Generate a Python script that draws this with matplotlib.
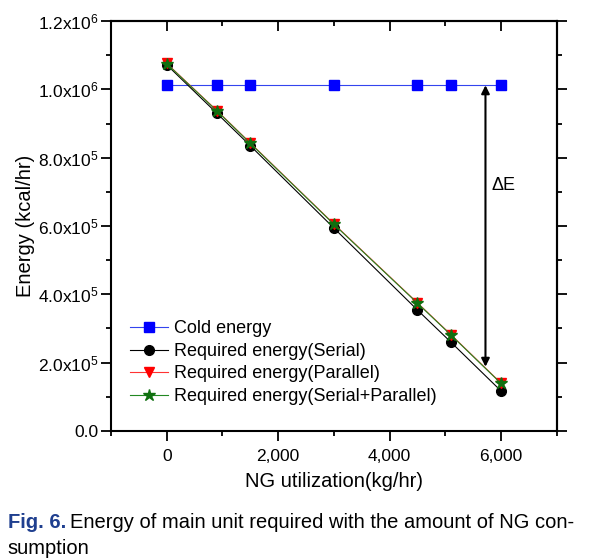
import numpy as np
import matplotlib
matplotlib.use("Agg")
import matplotlib.pyplot as plt
from matplotlib.ticker import MultipleLocator, FuncFormatter, NullFormatter

plt.rcParams['font.family'] = ['Liberation Sans', 'DejaVu Sans']
plt.rcParams['mathtext.fontset'] = 'custom'
plt.rcParams['mathtext.rm'] = 'Liberation Sans'
plt.rcParams['mathtext.it'] = 'Liberation Sans:italic'

# Data
ng = [0, 900, 1500, 3000, 4500, 5100, 6000]
cold = [1.012e6, 1.012e6, 1.012e6, 1.012e6, 1.012e6, 1.012e6, 1.012e6]
serial = [1.072e6, 9.30e5, 8.35e5, 5.94e5, 3.54e5, 2.60e5, 1.17e5]
parallel = [1.076e6, 9.38e5, 8.43e5, 6.06e5, 3.75e5, 2.82e5, 1.40e5]
ser_par = [1.075e6, 9.37e5, 8.42e5, 6.05e5, 3.74e5, 2.81e5, 1.39e5]

arrow_x = 5720
arrow_top = 1.012e6
arrow_bottom = 1.88e5

fig = plt.figure(figsize=(6, 5.6), dpi=100)
ax = fig.add_axes([0.185, 0.2304, 0.743, 0.732])

ax.plot(ng, cold, color='#3344ee', lw=0.8, marker='s', ms=6.5,
        mfc='#0000ff', mec='#0000ff', label='Cold energy')
ax.plot(ng, serial, color='black', lw=0.8, marker='o', ms=7,
        label='Required energy(Serial)')
ax.plot(ng, parallel, color='#ff3333', lw=0.8, marker='v', ms=7.5,
        mfc='red', mec='red', label='Required energy(Parallel)')
ax.plot(ng, ser_par, color='#228822', lw=0.8, marker='*', ms=9,
        mfc='#107010', mec='#107010', label='Required energy(Serial+Parallel)')

ax.annotate('', xy=(arrow_x, arrow_top), xytext=(arrow_x, arrow_bottom),
            arrowprops=dict(arrowstyle='<|-|>', color='black', lw=1.5,
                            mutation_scale=12, shrinkA=0, shrinkB=0))
ax.text(arrow_x + 100, 7.18e5, '\u0394E', fontsize=13, va='center', ha='left')

ax.set_xlim(-1000, 7000)
ax.set_ylim(0, 1.2e6)
ax.xaxis.set_major_locator(MultipleLocator(2000))
ax.xaxis.set_minor_locator(MultipleLocator(1000))
ax.yaxis.set_major_locator(MultipleLocator(2e5))
ax.yaxis.set_minor_locator(MultipleLocator(1e5))


def yfmt(v, pos):
    if abs(v) < 1:
        return '0.0'
    if v < 0:
        return ''
    e = int(np.floor(np.log10(v)))
    m = v / 10 ** e
    return r'%.1fx10$^{%d}$' % (m, e)


ax.yaxis.set_major_formatter(FuncFormatter(yfmt))
ax.xaxis.set_major_formatter(FuncFormatter(lambda v, p: '{:,.0f}'.format(v)))

ax.tick_params(axis='both', which='major', labelsize=12.5, width=1.3, length=7, direction='out', pad=2)
ax.tick_params(axis='both', which='minor', width=1.3, length=3.6, direction='out')
ax.tick_params(axis='x', which='major', pad=6)
for s in ax.spines.values():
    s.set_linewidth(1.5)

# mirrored ticks: top inward, right outward
top = ax.secondary_xaxis('top')
top.xaxis.set_major_locator(MultipleLocator(2000))
top.xaxis.set_minor_locator(MultipleLocator(1000))
top.xaxis.set_major_formatter(NullFormatter())
top.tick_params(which='major', direction='in', length=7, width=1.3)
top.tick_params(which='minor', direction='in', length=3.6, width=1.3)
top.spines['top'].set_linewidth(1.5)

right = ax.secondary_yaxis('right')
right.yaxis.set_major_locator(MultipleLocator(2e5))
right.yaxis.set_minor_locator(MultipleLocator(1e5))
right.yaxis.set_major_formatter(NullFormatter())
right.tick_params(which='major', direction='out', length=7, width=1.3)
right.tick_params(which='minor', direction='out', length=3.6, width=1.3)
right.spines['right'].set_linewidth(1.5)

ax.set_xlabel('NG utilization(kg/hr)', fontsize=14.5, labelpad=6)
ax.set_ylabel('Energy (kcal/hr)', fontsize=14.5, labelpad=2)

ax.legend(loc='upper left', bbox_to_anchor=(0.043, 0.27), frameon=False,
          fontsize=13, handlelength=2.1, handletextpad=0.35,
          labelspacing=0.31, borderaxespad=0, borderpad=0)

# caption
t1 = fig.text(0.013, 1 - 523 / 560, 'Fig. 6.', fontsize=14.5, fontweight='bold',
              color='#1f3f8f', va='center', ha='left')
fig.canvas.draw()
bb = t1.get_window_extent()
x2 = (bb.x1 + 4) / fig.bbox.width
fig.text(x2, 1 - 523 / 560, 'Energy of main unit required with the amount of NG con-',
         fontsize=14.5, va='center', ha='left')
fig.text(0.013, 1 - 549 / 560, 'sumption', fontsize=14.5, va='center', ha='left')

fig.savefig('out.png', dpi=100)
